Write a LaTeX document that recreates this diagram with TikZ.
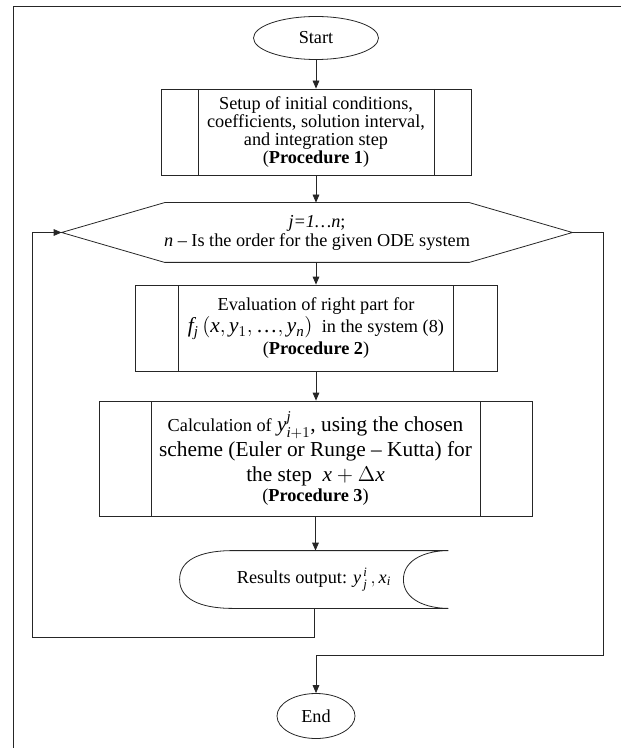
\RequirePackage{fix-cm}
\documentclass[tikz,border=0pt]{standalone}
\usepackage{amsmath}
\usepackage{fontspec}
\setmainfont{Liberation Serif}
\usetikzlibrary{arrows.meta,shapes.geometric}

\begin{document}
\begin{tikzpicture}[x=0.75pt,y=-0.75pt,line width=0.6pt,draw=black!85,
  every node/.style={font=\fontsize{13.7}{13.3}\selectfont},
  term/.style={draw,ellipse,inner sep=0pt},
  predef/.style={draw,rectangle,align=center,inner sep=0pt,
    path picture={
      \draw ([xshift=#1]path picture bounding box.north west) -- ([xshift=#1]path picture bounding box.south west);
      \draw ([xshift=-#1]path picture bounding box.north east) -- ([xshift=-#1]path picture bounding box.south east);}},
  flow/.style={-{Triangle[length=6pt,width=5pt]}}
]
\useasboundingbox (0,0) rectangle (621,748);

% page frame
\draw (13,748) -- (13,6) -- (621,6);

\node[term,minimum width=93.75pt,minimum height=32.25pt] (start) at (316,38) {Start};

\node[predef=27.75pt,minimum width=232.5pt,minimum height=64.5pt] (proc1) at (316,132)
  {Setup of initial conditions,\\coefficients, solution interval,\\and integration step\\(\textbf{Procedure 1})};

% loop header
\node[minimum width=382.5pt,minimum height=44.25pt,inner sep=0pt,align=center] (loop) at (317,232.5)
  {\textit{j=1\ldots n};\\[1pt]\textit{n} -- Is the order for the given ODE system};
\draw (loop.west) -- ([xshift=77.25pt]loop.north west) -- ([xshift=-77.25pt]loop.north east)
  -- (loop.east) -- ([xshift=-77.25pt]loop.south east) -- ([xshift=77.25pt]loop.south west) -- cycle;

\node[predef=32.6pt,minimum width=271.5pt,minimum height=64.5pt] (proc2) at (316,328)
  {Evaluation of right part for\\[1pt]
   {\fontsize{16}{16}\selectfont$\mathit{f}_{\mathit{j}}\,(\mathit{x},\mathit{y}_{1},\textrm{\ldots},\mathit{y}_{\mathit{n}})$}\ \ in the system (8)\\[1pt]
   (\textbf{Procedure 2})};

\node[predef=39pt,minimum width=324.75pt,minimum height=86.25pt,font=\fontsize{16}{18.5}\selectfont] (proc3) at (315.5,458.5)
  {{\fontsize{13.7}{13}\selectfont Calculation of} $\mathit{y}^{\mathit{j}}_{\mathit{i}+1}$, using the chosen\\
   scheme (Euler or Runge -- Kutta) for\\
   the step \ $\mathit{x}+\Delta \mathit{x}$\\[-3pt]
   {\fontsize{13.7}{13}\selectfont(\textbf{Procedure 3})}};

% output
\node[minimum width=201pt,minimum height=42.75pt,inner sep=0pt] (out) at (314,579.5)
  {Results output: $\mathit{y}^{\,\mathit{i}}_{\,\mathit{j}}\,,\mathit{x}_{\mathit{i}}$};
\draw ([xshift=39.75pt]out.north west) to[out=180,in=90] (out.west) to[out=-90,in=180] ([xshift=39.75pt]out.south west)
  -- (out.south east) to[out=180,in=-90] ([xshift=-33.75pt]out.east) to[out=90,in=180] (out.north east) -- cycle;

\node[term,minimum width=58.5pt,minimum height=33.75pt] (end) at (316,716) {End};

\coordinate (back) at (32,637);
\coordinate (exit) at (603,655);

\draw[flow] (start) -- (proc1);
\draw[flow] (proc1.south) -- (proc1.south |- loop.north);
\draw[flow] (proc1.south |- loop.south) -- (proc2.north);
\draw[flow] (proc2.south) -- (proc2.south |- proc3.north);
\draw[flow] (proc3.south) -- (proc3.south |- out.north);
\draw[flow] (out.south) |- (back) |- (loop.west);
\draw[flow] (loop.east) -| (exit) -| (end.north);
\end{tikzpicture}
\end{document}
